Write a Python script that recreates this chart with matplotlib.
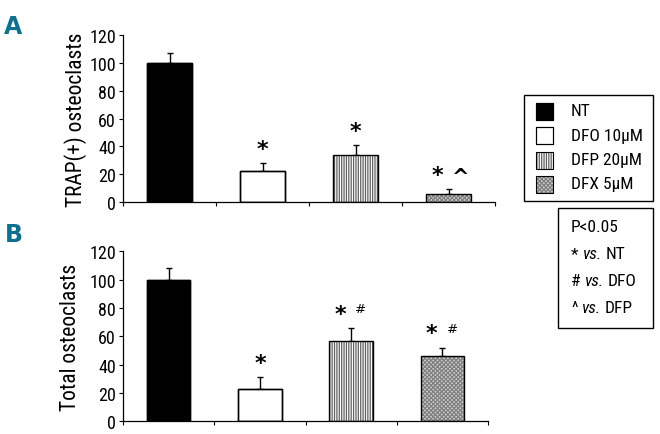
import matplotlib
matplotlib.use("Agg")
import matplotlib.pyplot as plt
from matplotlib import font_manager
from matplotlib.patches import Rectangle

names = {f.name for f in font_manager.fontManager.ttflist}
fam = [n for n in ["Liberation Sans Narrow", "Roboto Condensed", "Liberation Sans"] if n in names] + ["DejaVu Sans"]
plt.rcParams['font.family'] = fam

categories = ["NT", "DFO 10\u03bcM", "DFP 20\u03bcM", "DFX 5\u03bcM"]
trap_values = [100, 22.5, 34, 6]
trap_errors = [7, 5.5, 7, 3.5]
total_values = [100, 23, 57, 46]
total_errors = [8, 8.5, 9, 6]
trap_marks = ["*", "*", "* ^"]
total_marks = ["*", "* #", "* #"]
yticks = [0, 20, 40, 60, 80, 100, 120]
sig_lines = ["P<0.05", "* vs. NT", "# vs. DFO", "^ vs. DFP"]

fig = plt.figure(figsize=(6.6, 4.35), dpi=100)
axA = fig.add_axes([0.1864, 0.5333, 0.5636, 0.3839])
axB = fig.add_axes([0.1864, 0.0292, 0.553, 0.3908])

def style(i):
    if i == 0:
        return dict(face="black", hatch=None, hc=None)
    if i == 1:
        return dict(face="white", hatch=None, hc=None)
    if i == 2:
        return dict(face="white", hatch="|||||||", hc="#606060")
    return dict(face="#d0d0d0", hatch="xxxxxxxx", hc="#808080")

plt.rcParams['hatch.linewidth'] = 0.9

def draw(ax, vals, errs, marks, ylabel, lpad):
    x = [i + 0.5 for i in range(len(vals))]
    w = 0.475
    for i, (xi, v, e) in enumerate(zip(x, vals, errs)):
        s = style(i)
        ax.bar(xi, v, w, color=s["face"], edgecolor=s["hc"] if s["hatch"] else "black",
               hatch=s["hatch"], linewidth=0 if s["hatch"] else 1.0, zorder=2)
        ax.bar(xi, v, w, facecolor="none", edgecolor="black", linewidth=1.0, zorder=3)
        ax.errorbar(xi, v, yerr=[[0], [e]], fmt="none", ecolor="black", elinewidth=1.0,
                    capsize=2, capthick=1.0, zorder=1)
    for j, m in enumerate(marks):
        i = j + 1
        parts = m.split(" ")
        top = vals[i] + errs[i]
        if len(parts) == 1:
            ax.annotate(parts[0], (x[i], top), xytext=(0, 3), textcoords="offset points",
                        ha="center", va="bottom", fontsize=16, fontweight="bold",
                        family="DejaVu Sans")
        else:
            ax.annotate(parts[0], (x[i], top), xytext=(-8, 3), textcoords="offset points",
                        ha="center", va="bottom", fontsize=16, fontweight="bold",
                        family="DejaVu Sans")
            if parts[1] == "^":
                ax.annotate(parts[1], (x[i], top), xytext=(9, 1), textcoords="offset points",
                            ha="center", va="bottom", fontsize=15, fontweight="bold",
                            family="DejaVu Sans")
            else:
                ax.annotate(parts[1], (x[i], top), xytext=(7, 9), textcoords="offset points",
                            ha="center", va="bottom", fontsize=9.5, family="DejaVu Sans")
    ax.set_xlim(0, 4)
    ax.set_ylim(0, 120)
    ax.set_yticks(yticks)
    ax.set_xticks([0, 1, 2, 3, 4])
    ax.set_xticklabels([])
    ax.tick_params(axis="both", direction="out", length=3, width=0.8, labelsize=13, pad=2)
    for sp in ["top", "right"]:
        ax.spines[sp].set_visible(False)
    ax.spines["left"].set_linewidth(0.9)
    ax.spines["bottom"].set_linewidth(0.9)
    ax.set_ylabel(ylabel, fontsize=15.5, labelpad=lpad)

draw(axA, trap_values, trap_errors, trap_marks, "TRAP(+) osteoclasts", 2)
draw(axB, total_values, total_errors, total_marks, "Total osteoclasts", 6)

teal = "#0e6f8e"
fig.text(4 / 660, 1 - 27 / 435, "A", fontsize=17, fontweight="bold", color=teal, va="center",
         family="DejaVu Sans")
fig.text(5 / 660, 1 - 235 / 435, "B", fontsize=17, fontweight="bold", color=teal, va="center",
         family="DejaVu Sans")

W, H = 660, 435
def fx(px): return px / W
def fy(py): return 1 - py / H

fig.patches.append(Rectangle((fx(524), fy(202)), fx(653) - fx(524), fy(96) - fy(202),
                             transform=fig.transFigure, facecolor="white", edgecolor="black",
                             linewidth=1.0))
rows = [112, 136, 161, 185]
for i, (lab, ry) in enumerate(zip(categories, rows)):
    s = style(i)
    sq = 17
    fig.patches.append(Rectangle((fx(536), fy(ry + sq / 2)), fx(536 + sq) - fx(536),
                                 fy(ry - sq / 2) - fy(ry + sq / 2), transform=fig.transFigure,
                                 facecolor=s["face"], edgecolor=s["hc"] if s["hatch"] else "black",
                                 hatch=s["hatch"], linewidth=0 if s["hatch"] else 0.8))
    fig.patches.append(Rectangle((fx(536), fy(ry + sq / 2)), fx(536 + sq) - fx(536),
                                 fy(ry - sq / 2) - fy(ry + sq / 2), transform=fig.transFigure,
                                 facecolor="none", edgecolor="black", linewidth=0.8))
    fig.text(fx(571), fy(ry), lab, fontsize=12.5, va="center", ha="left")

fig.patches.append(Rectangle((fx(558), fy(329)), fx(653) - fx(558), fy(209) - fy(329),
                             transform=fig.transFigure, facecolor="white", edgecolor="black",
                             linewidth=1.0))
renderer = fig.canvas.get_renderer()
srows = [228, 255, 282, 309]
for line, ry in zip(sig_lines, srows):
    if " vs. " in line:
        sym, rest = line.split(" vs. ")
        pieces = [(sym, "normal", 4), ("vs.", "italic", 4), (rest, "normal", 0)]
    else:
        pieces = [(line, "normal", 0)]
    xpx = 571
    for txt, st, gap in pieces:
        t = fig.text(fx(xpx), fy(ry), txt, fontsize=12.5, va="center", ha="left", style=st)
        bb = t.get_window_extent(renderer)
        xpx += bb.width + gap

fig.savefig("out.png", dpi=100)
